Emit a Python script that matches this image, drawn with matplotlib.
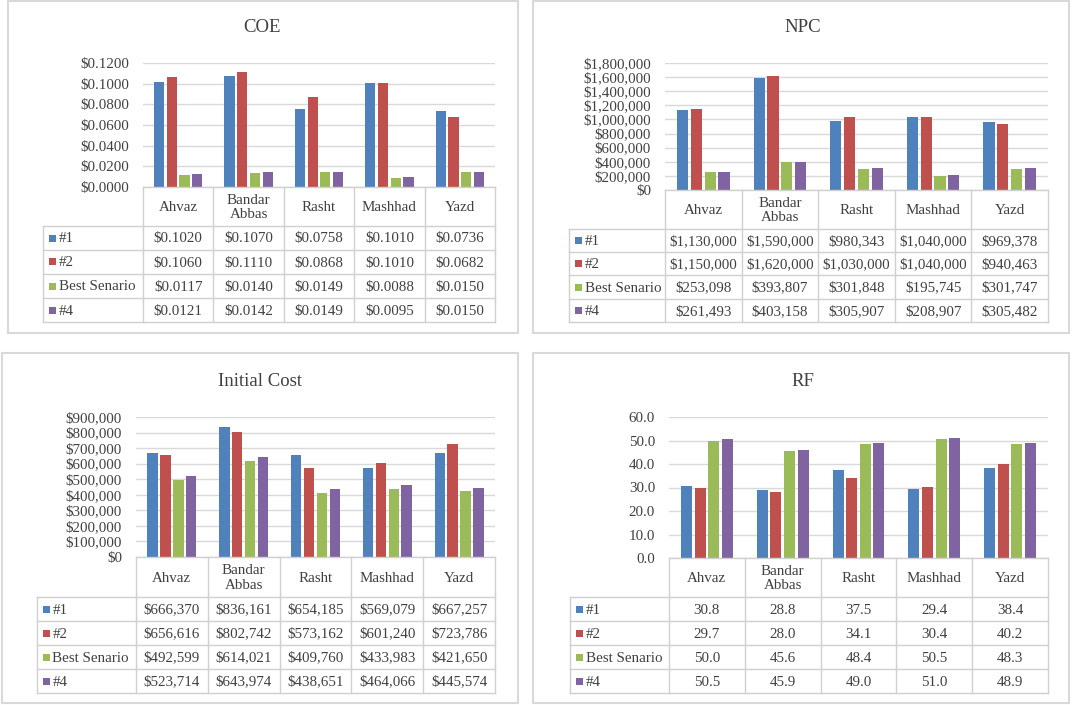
import matplotlib.pyplot as plt
from matplotlib.lines import Line2D
from matplotlib.patches import Rectangle
from matplotlib.ticker import FuncFormatter
import numpy as np

# ---------------- data ----------------
cities = ['Ahvaz', 'Bandar\nAbbas', 'Rasht', 'Mashhad', 'Yazd']
series = ['#1', '#2', 'Best Senario', '#4']
colors = ['#4F81BD', '#C0504D', '#9BBB59', '#8064A2']

coe_1 = [0.1020, 0.1070, 0.0758, 0.1010, 0.0736]
coe_2 = [0.1060, 0.1110, 0.0868, 0.1010, 0.0682]
coe_best = [0.0117, 0.0140, 0.0149, 0.0088, 0.0150]
coe_4 = [0.0121, 0.0142, 0.0149, 0.0095, 0.0150]

npc_1 = [1130000, 1590000, 980343, 1040000, 969378]
npc_2 = [1150000, 1620000, 1030000, 1040000, 940463]
npc_best = [253098, 393807, 301848, 195745, 301747]
npc_4 = [261493, 403158, 305907, 208907, 305482]

init_1 = [666370, 836161, 654185, 569079, 667257]
init_2 = [656616, 802742, 573162, 601240, 723786]
init_best = [492599, 614021, 409760, 433983, 421650]
init_4 = [523714, 643974, 438651, 464066, 445574]

rf_1 = [30.8, 28.8, 37.5, 29.4, 38.4]
rf_2 = [29.7, 28.0, 34.1, 30.4, 40.2]
rf_best = [50.0, 45.6, 48.4, 50.5, 48.3]
rf_4 = [50.5, 45.9, 49.0, 51.0, 48.9]

# ---------------- style ----------------
plt.rcParams['font.family'] = ['Liberation Serif', 'DejaVu Serif']
TXT = '#404040'
GRID = '#d9d9d9'
LINE = '#d0d0d0'
FS = 10.8

W, H = 1072, 705
fig = plt.figure(figsize=(W / 100, H / 100), dpi=100)


def fx(x):
    return x / W


def fy(y):
    return 1 - y / H


def seg(x0, y0, x1, y1, color=LINE, lw=1.0):
    fig.add_artist(Line2D([fx(x0), fx(x1)], [fy(y0), fy(y1)],
                          transform=fig.transFigure, color=color, lw=lw))


def fmt_coe(v, p=None):
    return f'${v:.4f}'


def fmt_money(v, p=None):
    return f'${v:,.0f}'


def fmt_rf(v, p=None):
    return f'{v:.1f}'


def draw_panel(title, values, fmt, ymax, ystep, box, title_xy, plot,
               header_bottom, row_h, table_left):
    bx0, by0, bx1, by1 = box
    fig.add_artist(Rectangle((fx(bx0), fy(by1)), (bx1 - bx0) / W, (by1 - by0) / H,
                             transform=fig.transFigure, fill=False,
                             edgecolor=GRID, lw=1.5))
    fig.text(fx(title_xy[0]), fy(title_xy[1]), title, ha='center', va='center',
             fontsize=13.5, color=TXT)

    px0, py0, px1, py1 = plot
    ax = fig.add_axes([fx(px0), fy(py1), (px1 - px0) / W, (py1 - py0) / H])
    n = len(cities)
    x = np.arange(n)
    offsets = [-0.27, -0.09, 0.09, 0.27]
    for i, vals in enumerate(values):
        ax.bar(x + offsets[i], vals, width=0.145, color=colors[i], zorder=3)
    ax.set_xlim(-0.5, n - 0.5)
    ax.set_ylim(0, ymax)
    ax.set_yticks(np.arange(0, ymax + ystep / 2, ystep))
    ax.yaxis.set_major_formatter(FuncFormatter(fmt))
    ax.set_xticks([])
    ax.grid(axis='y', color=GRID, lw=1)
    ax.set_axisbelow(True)
    for sp in ax.spines.values():
        sp.set_visible(False)
    ax.tick_params(length=0, pad=10, labelsize=FS, labelcolor=TXT)

    # data table under the plot
    col_w = (px1 - px0) / n
    rows_bottom = header_bottom + row_h * len(series)
    seg(px0, py1, px1, py1)
    for k in range(n + 1):
        seg(px0 + k * col_w, py1, px0 + k * col_w, rows_bottom)
    seg(table_left, header_bottom, table_left, rows_bottom)
    for r in range(len(series) + 1):
        yy = header_bottom + r * row_h
        seg(table_left, yy, px1, yy)
    for k, c in enumerate(cities):
        fig.text(fx(px0 + (k + 0.5) * col_w), fy((py1 + header_bottom) / 2 + 1), c,
                 ha='center', va='center', fontsize=FS, color=TXT, linespacing=1.15)
    for r, (name, vals) in enumerate(zip(series, values)):
        yc = header_bottom + (r + 0.5) * row_h
        fig.add_artist(Rectangle((fx(table_left + 6), fy(yc + 3.5)), 7 / W, 7 / H,
                                 transform=fig.transFigure, color=colors[r], lw=0))
        fig.text(fx(table_left + 16), fy(yc + 1), name, ha='left', va='center',
                 fontsize=FS, color=TXT)
        for k, v in enumerate(vals):
            fig.text(fx(px0 + (k + 0.5) * col_w), fy(yc + 1), fmt(v),
                     ha='center', va='center', fontsize=FS, color=TXT)


draw_panel('COE', [coe_1, coe_2, coe_best, coe_4], fmt_coe, 0.12, 0.02,
           box=(7.5, 1, 518, 333), title_xy=(262, 28), plot=(143, 63, 495, 187),
           header_bottom=226, row_h=24, table_left=43)
draw_panel('NPC', [npc_1, npc_2, npc_best, npc_4], fmt_money, 1800000, 200000,
           box=(533, 1, 1069, 333), title_xy=(803, 28), plot=(665, 63, 1048, 190),
           header_bottom=229, row_h=23.25, table_left=569)
draw_panel('Initial Cost', [init_1, init_2, init_best, init_4], fmt_money, 900000, 100000,
           box=(2, 353, 518, 703), title_xy=(260, 382), plot=(136, 417, 495, 557),
           header_bottom=597, row_h=24, table_left=36.5)
draw_panel('RF', [rf_1, rf_2, rf_best, rf_4], fmt_rf, 60, 10,
           box=(533, 353, 1069, 703), title_xy=(803, 382), plot=(669, 417, 1048, 558),
           header_bottom=597, row_h=24, table_left=569.5)

fig.savefig('out.png', dpi=100, facecolor='white')
